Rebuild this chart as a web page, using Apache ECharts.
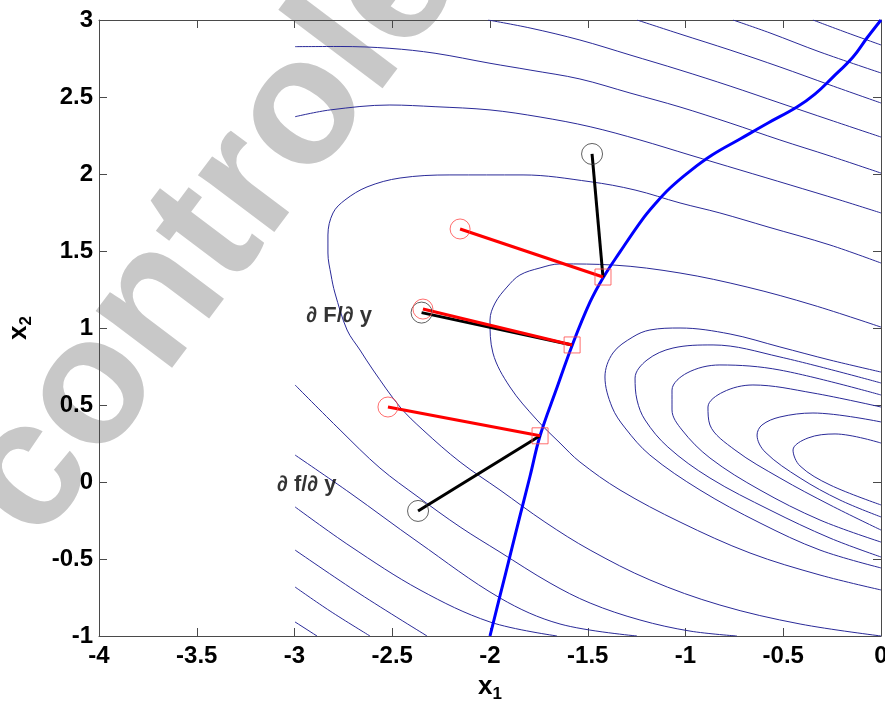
<!DOCTYPE html>
<html>
<head>
<meta charset="utf-8">
<script src="https://cdn.jsdelivr.net/npm/echarts@6/dist/echarts.min.js"></script>
<style>
  html, body { margin: 0; padding: 0; background: #fff; overflow: hidden; }
  #chart { width: 885px; height: 702px; }
</style>
</head>
<body>
<div id="chart"></div>
<script>
// Level curves of the objective (thin blue)
const levelU1 = [[-0.348,3.0],[-0.184,2.922],[0,2.838],
  null, [-2.997,-0.909],[-2.885,-1.0]];
const levelU2 = [[-0.757,3.0],[-0.568,2.916],[-0.312,2.792],[0,2.656],
  null, [-2.997,-0.682],[-2.818,-0.838],[-2.614,-1.0]];
const levelU3 = [[-1.248,3.0],[-1.028,2.909],[-0.772,2.805],[-0.517,2.695],[-0.261,2.578],[0,2.461],
  null, [-2.997,-0.442],[-2.665,-0.727],[-2.322,-1.0]];
const levelB = [[-2.010,3.0],[-1.795,2.948],[-1.540,2.870],[-1.284,2.773],[-1.028,2.675],[-0.772,2.571],[-0.517,2.461],[-0.261,2.351],[0,2.240],
  null, [-2.997,-0.162],[-2.716,-0.416],[-2.358,-0.701],[-2.0,-0.909],[-1.657,-1.0]];
const levelA = [[-2.997,2.827],[-2.767,2.828],[-2.512,2.816],[-2.281,2.784],[-2.0,2.719],[-1.795,2.675],[-1.540,2.617],[-1.284,2.526],[-1.028,2.435],[-0.772,2.331],[-0.517,2.221],[-0.261,2.117],[0,2.006],
  null, [-2.997,0.175],[-2.716,-0.071],[-2.368,-0.390],[-1.949,-0.753],[-1.642,-0.922],[-1.248,-1.0]];
const levelC = [[-2.997,2.372],[-2.818,2.416],[-2.512,2.448],[-2.281,2.437],[-2.0,2.416],[-1.744,2.370],[-1.488,2.307],[-1.233,2.221],[-0.977,2.123],[-0.721,2.026],[-0.465,1.929],[-0.210,1.831],[0,1.747],
  null, [-2.997,0.630],[-2.767,0.338],[-2.563,0.091],[-2.368,-0.097],[-2.153,-0.292],[-1.949,-0.455],[-1.693,-0.656],[-1.488,-0.786],[-1.233,-0.896],[-0.977,-0.968],[-0.737,-1.0]];
const levelD = [[0,1.422],[-0.261,1.539],[-0.578,1.656],[-0.824,1.747],[-1.028,1.812],[-1.258,1.896],[-1.488,1.950],[-1.831,1.994],[-2.205,1.994],[-2.460,1.974],[-2.629,1.916],[-2.742,1.831],[-2.803,1.747],[-2.829,1.604],[-2.829,1.487],[-2.813,1.344],[-2.793,1.227],[-2.731,0.987],[-2.665,0.857],[-2.598,0.727],[-2.460,0.487],[-2.343,0.338],[-2.153,0.130],[-1.949,-0.052],[-1.719,-0.260],[-1.488,-0.442],[-1.182,-0.636],[-0.824,-0.799],[-0.414,-0.922],[0,-1.0]];
const levelE = [[0,1.006],[-0.348,1.149],[-0.685,1.266],[-1.028,1.357],[-1.371,1.409],[-1.642,1.416],[-1.744,1.390],[-1.847,1.344],[-1.913,1.266],[-1.974,1.162],[-2.0,1.052],[-1.985,0.838],[-1.898,0.617],[-1.760,0.403],[-1.642,0.253],[-1.540,0.130],[-1.335,-0.052],[-1.028,-0.260],[-0.670,-0.461],[-0.312,-0.604],[0,-0.701]];
const levelI6 = [[0,0.714],[-0.261,0.792],[-0.517,0.877],[-0.772,0.961],[-1.028,1.0],[-1.182,0.987],[-1.269,0.942],[-1.371,0.838],[-1.412,0.682],[-1.376,0.487],[-1.309,0.351],[-1.182,0.175],[-0.926,-0.052],[-0.619,-0.266],[-0.312,-0.442],[0,-0.558]];
const levelI5 = [[0,0.643],[-0.517,0.812],[-0.859,0.890],[-1.064,0.870],[-1.197,0.792],[-1.258,0.675],[-1.248,0.532],[-1.207,0.403],[-1.090,0.227],[-0.875,0.026],[-0.568,-0.182],[-0.261,-0.364],[0,-0.487]];
const levelI4 = [[0,0.565],[-0.517,0.727],[-0.824,0.760],[-0.992,0.708],[-1.069,0.597],[-1.069,0.468],[-1.018,0.338],[-0.875,0.156],[-0.619,-0.052],[-0.312,-0.247],[0,-0.390]];
const levelI3 = [[0,0.487],[-0.348,0.578],[-0.655,0.630],[-0.808,0.584],[-0.885,0.487],[-0.875,0.370],[-0.747,0.208],[-0.517,0.026],[-0.261,-0.149],[0,-0.312]];
const levelI2 = [[0,0.390],[-0.348,0.448],[-0.517,0.422],[-0.609,0.370],[-0.634,0.305],[-0.593,0.195],[-0.414,0.026],[-0.210,-0.117],[0,-0.227]];
const levelI1 = [[0,0.253],[-0.235,0.312],[-0.373,0.286],[-0.450,0.208],[-0.414,0.104],[-0.261,-0.019],[0,-0.149]];

// Constraint curve (thick blue)
const constraintCurve = [[-2.0,-1.0],[-1.949,-0.740],[-1.898,-0.481],[-1.847,-0.221],[-1.795,0.039],[-1.744,0.300],[-1.662,0.597],[-1.575,0.903],[-1.488,1.169],[-1.422,1.325],[-1.335,1.494],[-1.223,1.701],[-1.156,1.805],[-1.079,1.909],[-0.977,2.019],[-0.864,2.123],[-0.721,2.227],[-0.578,2.331],[-0.430,2.435],[-0.338,2.519],[-0.251,2.623],[-0.143,2.760],[-0.072,2.883],[0,3.0]];

// Start points (circles) and their projections on the constraint (squares)
const redStarts = [[-2.153,1.643],[-2.343,1.123],[-2.522,0.487]];
const blackStarts = [[-1.478,2.130],[-2.350,1.100],[-2.368,-0.188]];
const projections = [[-1.422,1.331],[-1.580,0.890],[-1.744,0.300]];

// Annotations
const noteTexts = ['\u2202 F/\u2202 y', '\u2202 f/\u2202 y'];
const notePositions = [[-2.94,1.08],[-3.09,-0.02]];

// Axis ticks
const xTicks = ['-4','-3.5','-3','-2.5','-2','-1.5','-1','-0.5','0'];
const yTicks = ['-1','-0.5','0','0.5','1','1.5','2','2.5','3'];

const levels = [levelU1, levelU2, levelU3, levelB, levelA, levelC, levelD, levelE,
                levelI6, levelI5, levelI4, levelI3, levelI2, levelI1];

const chart = echarts.init(document.getElementById('chart'), null, { renderer: 'canvas' });

const FONT = '"Liberation Sans", Arial, Helvetica, sans-serif';
const axisColor = '#4a4a4a';

function lineSeries(data, color, width, smooth, z) {
  return {
    type: 'line', data: data, smooth: smooth, showSymbol: false, symbol: 'none',
    connectNulls: false, clip: true, silent: true, z: z,
    lineStyle: { color: color, width: width }
  };
}

const series = [];
levels.forEach(function (lv) { series.push(lineSeries(lv, '#2a2a98', 1, 0.35, 2)); });
series.push(lineSeries(constraintCurve, '#0000ff', 3, 0.4, 3));
blackStarts.forEach(function (p, i) { series.push(lineSeries([p, projections[i]], '#000000', 3, false, 4)); });
redStarts.forEach(function (p, i) { series.push(lineSeries([p, projections[i]], '#ff0000', 3, false, 5)); });

series.push({
  type: 'scatter', data: blackStarts, symbol: 'circle', symbolSize: 21, z: 6, silent: true,
  itemStyle: { color: 'rgba(0,0,0,0)', borderColor: '#3a3a3a', borderWidth: 1 }
});
series.push({
  type: 'scatter', data: redStarts, symbol: 'circle', symbolSize: 20, z: 6, silent: true,
  itemStyle: { color: 'rgba(0,0,0,0)', borderColor: '#ff4a4a', borderWidth: 1 }
});
series.push({
  type: 'scatter', data: projections, symbol: 'rect', symbolSize: 16, z: 6, silent: true,
  itemStyle: { color: 'rgba(0,0,0,0)', borderColor: '#ff4a4a', borderWidth: 1 }
});
series.push({
  type: 'scatter', symbolSize: 0, z: 7, silent: true,
  data: notePositions.map(function (p, i) { return { value: p, name: noteTexts[i] }; }),
  label: {
    show: true, position: 'right', distance: 0, formatter: '{b}',
    color: '#000', fontFamily: FONT, fontWeight: 'bold', fontSize: 22
  }
});

function tickLabel(list, lo) {
  return function (v) {
    const idx = Math.round((v - lo) / 0.5);
    return list[idx] !== undefined ? list[idx] : '';
  };
}

const baseAxis = {
  type: 'value', interval: 0.5,
  axisLine: { show: true, onZero: false, lineStyle: { color: axisColor, width: 1 } },
  axisTick: { show: true, inside: true, length: 8, lineStyle: { color: axisColor, width: 1 } },
  splitLine: { show: false }
};

chart.setOption({
  animation: false,
  backgroundColor: '#ffffff',
  grid: { left: 99, right: 4, top: 20, bottom: 66, containLabel: false, outerBoundsMode: 'none' },
  xAxis: [
    Object.assign({}, baseAxis, {
      min: -4, max: 0, position: 'bottom',
      axisLabel: { show: true, margin: 8, color: '#000', fontFamily: FONT, fontWeight: 'bold', fontSize: 24,
                   formatter: tickLabel(xTicks, -4), showMinLabel: true, showMaxLabel: true, hideOverlap: false },
      name: '{v|x}{s|1}', nameLocation: 'middle', nameGap: 34,
      nameTextStyle: { rich: {
        v: { fontFamily: FONT, fontWeight: 'bold', fontSize: 26, color: '#000' },
        s: { fontFamily: FONT, fontWeight: 'bold', fontSize: 17, color: '#000', padding: [16, 0, 0, 0] }
      } }
    }),
    Object.assign({}, baseAxis, { min: -4, max: 0, position: 'top', axisLabel: { show: false } })
  ],
  yAxis: [
    Object.assign({}, baseAxis, {
      min: -1, max: 3, position: 'left',
      axisLabel: { show: true, margin: 6, color: '#000', fontFamily: FONT, fontWeight: 'bold', fontSize: 24,
                   formatter: tickLabel(yTicks, -1), showMinLabel: true, showMaxLabel: true, hideOverlap: false },
      name: '{v|x}{s|2}', nameLocation: 'middle', nameGap: 64, nameRotate: 90,
      nameTextStyle: { rich: {
        v: { fontFamily: FONT, fontWeight: 'bold', fontSize: 26, color: '#000' },
        s: { fontFamily: FONT, fontWeight: 'bold', fontSize: 17, color: '#000', padding: [16, 0, 0, 0] }
      } }
    }),
    Object.assign({}, baseAxis, { min: -1, max: 3, position: 'right', axisLabel: { show: false } })
  ],
  graphic: [{
    type: 'text', x: 212, y: 232, rotation: 53 * Math.PI / 180, z: -10, silent: true,
    style: { text: 'controle', font: 'bold 180px ' + FONT, fill: '#c8c8c8',
             align: 'center', verticalAlign: 'middle' }
  }],
  series: series
});
</script>
</body>
</html>
